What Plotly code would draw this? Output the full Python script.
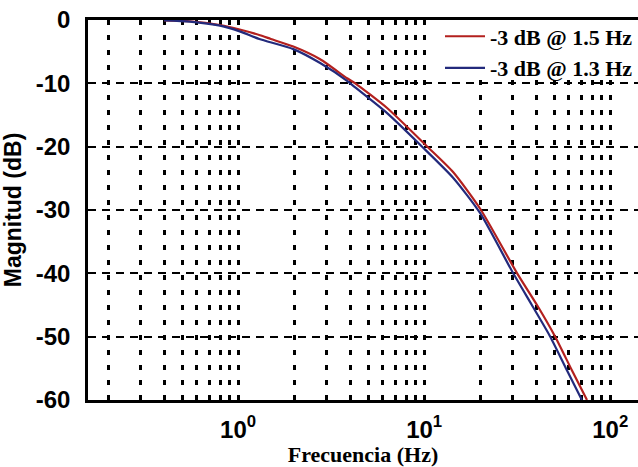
import numpy as np
import plotly.graph_objects as go

# Frequency response magnitude of two low-pass designs
freq_a = [0.40, 0.55, 0.80, 1.02, 1.31, 1.50, 1.98, 2.76, 3.85, 4.26, 6.32,
          10.4, 14.3, 20.0, 31.6, 40.4, 50.6, 62.2, 75.0]
mag_a = [-0.05, -0.2, -0.8, -1.5, -2.4, -3.0, -4.2, -6.2, -9.2, -10.0, -13.9,
         -20.0, -24.0, -29.8, -40.0, -45.0, -50.0, -55.3, -60.0]

freq_b = [0.40, 0.55, 0.80, 1.02, 1.30, 1.98, 2.76, 3.85, 4.00, 6.32,
          9.75, 14.3, 20.0, 30.1, 37.9, 47.6, 58.5, 70.4]
mag_b = [-0.05, -0.25, -0.9, -1.8, -3.0, -4.6, -6.8, -9.6, -10.0, -14.7,
         -20.0, -24.9, -30.5, -40.0, -45.0, -50.0, -55.3, -60.0]

label_a = "-3 dB @ 1.5 Hz"
label_b = "-3 dB @ 1.3 Hz"

# Log-axis grid: decades labelled, intermediate multiples as unlabelled lines
decades = [1, 10, 100]
decade_text = ["10<sup>0</sup>", "10<sup>1</sup>", "10<sup>2</sup>"]
minor_mult = [2, 3, 4, 5, 6, 7, 8, 9]

y_ticks = [0, -10, -20, -30, -40, -50, -60]
y_text = ["0", "-10", "-20", "-30", "-40", "-50", "-60"]

x_vals, x_text = [], []
for base in [0.1, 1, 10]:
    for m in minor_mult:
        x_vals.append(round(base * m, 4))
        x_text.append("")
for d, t in zip(decades, decade_text):
    x_vals.append(d)
    x_text.append(t)

x_lo, x_hi = np.log10(0.156), np.log10(141)
y_lo, y_hi = -60, 0

fig = go.Figure()
fig.add_trace(go.Scatter(x=freq_a, y=mag_a, mode="lines", name=label_a,
                         line=dict(color="#b3201e", width=2.2, shape="spline", smoothing=0.6)))
fig.add_trace(go.Scatter(x=freq_b, y=mag_b, mode="lines", name=label_b,
                         line=dict(color="#232a7c", width=2.2, shape="spline", smoothing=0.6)))

# White patch behind the legend: hides the grid there but keeps the frame on top
fig.add_shape(type="rect", xref="x", yref="y",
              x0=10 ** (x_lo + 0.618 * (x_hi - x_lo)), x1=10 ** x_hi,
              y0=y_lo + 0.845 * (y_hi - y_lo), y1=y_hi,
              fillcolor="white", line=dict(width=0), layer="between")

tick_font = dict(family="Liberation Sans", size=24, color="black", weight="bold")

fig.update_layout(
    width=638, height=467,
    margin=dict(l=88, r=0, t=20, b=67),
    paper_bgcolor="white", plot_bgcolor="white",
    showlegend=True,
    legend=dict(x=1, y=1.012, xanchor="right", yanchor="top",
                bgcolor="rgba(0,0,0,0)", borderwidth=0,
                font=dict(family="Liberation Serif", size=22, color="black", weight="bold"),
                tracegroupgap=0, itemwidth=40),
    xaxis=dict(
        type="log",
        range=[x_lo, x_hi],
        tickmode="array", tickvals=x_vals, ticktext=x_text,
        ticks="", tickfont=tick_font, ticklabelstandoff=6,
        showgrid=True, gridcolor="black", gridwidth=3, griddash="5px,10px",
        showline=True, linecolor="black", linewidth=2.5, mirror=True,
        zeroline=False,
        title=dict(text="Frecuencia (Hz)", standoff=4,
                   font=dict(family="Liberation Serif", size=22, color="black", weight="bold")),
    ),
    yaxis=dict(
        range=[y_lo, y_hi],
        tickmode="array", tickvals=y_ticks, ticktext=y_text,
        ticks="", tickfont=tick_font, ticklabelstandoff=10,
        showgrid=True, gridcolor="black", gridwidth=2, griddash="8px,6px",
        showline=True, linecolor="black", linewidth=2.5, mirror=False,
        zeroline=False,
        title=dict(text="Magnitud (dB)", standoff=8,
                   font=dict(family="Liberation Sans", size=23, color="black", weight="bold")),
    ),
)

fig.write_html("out.html")
